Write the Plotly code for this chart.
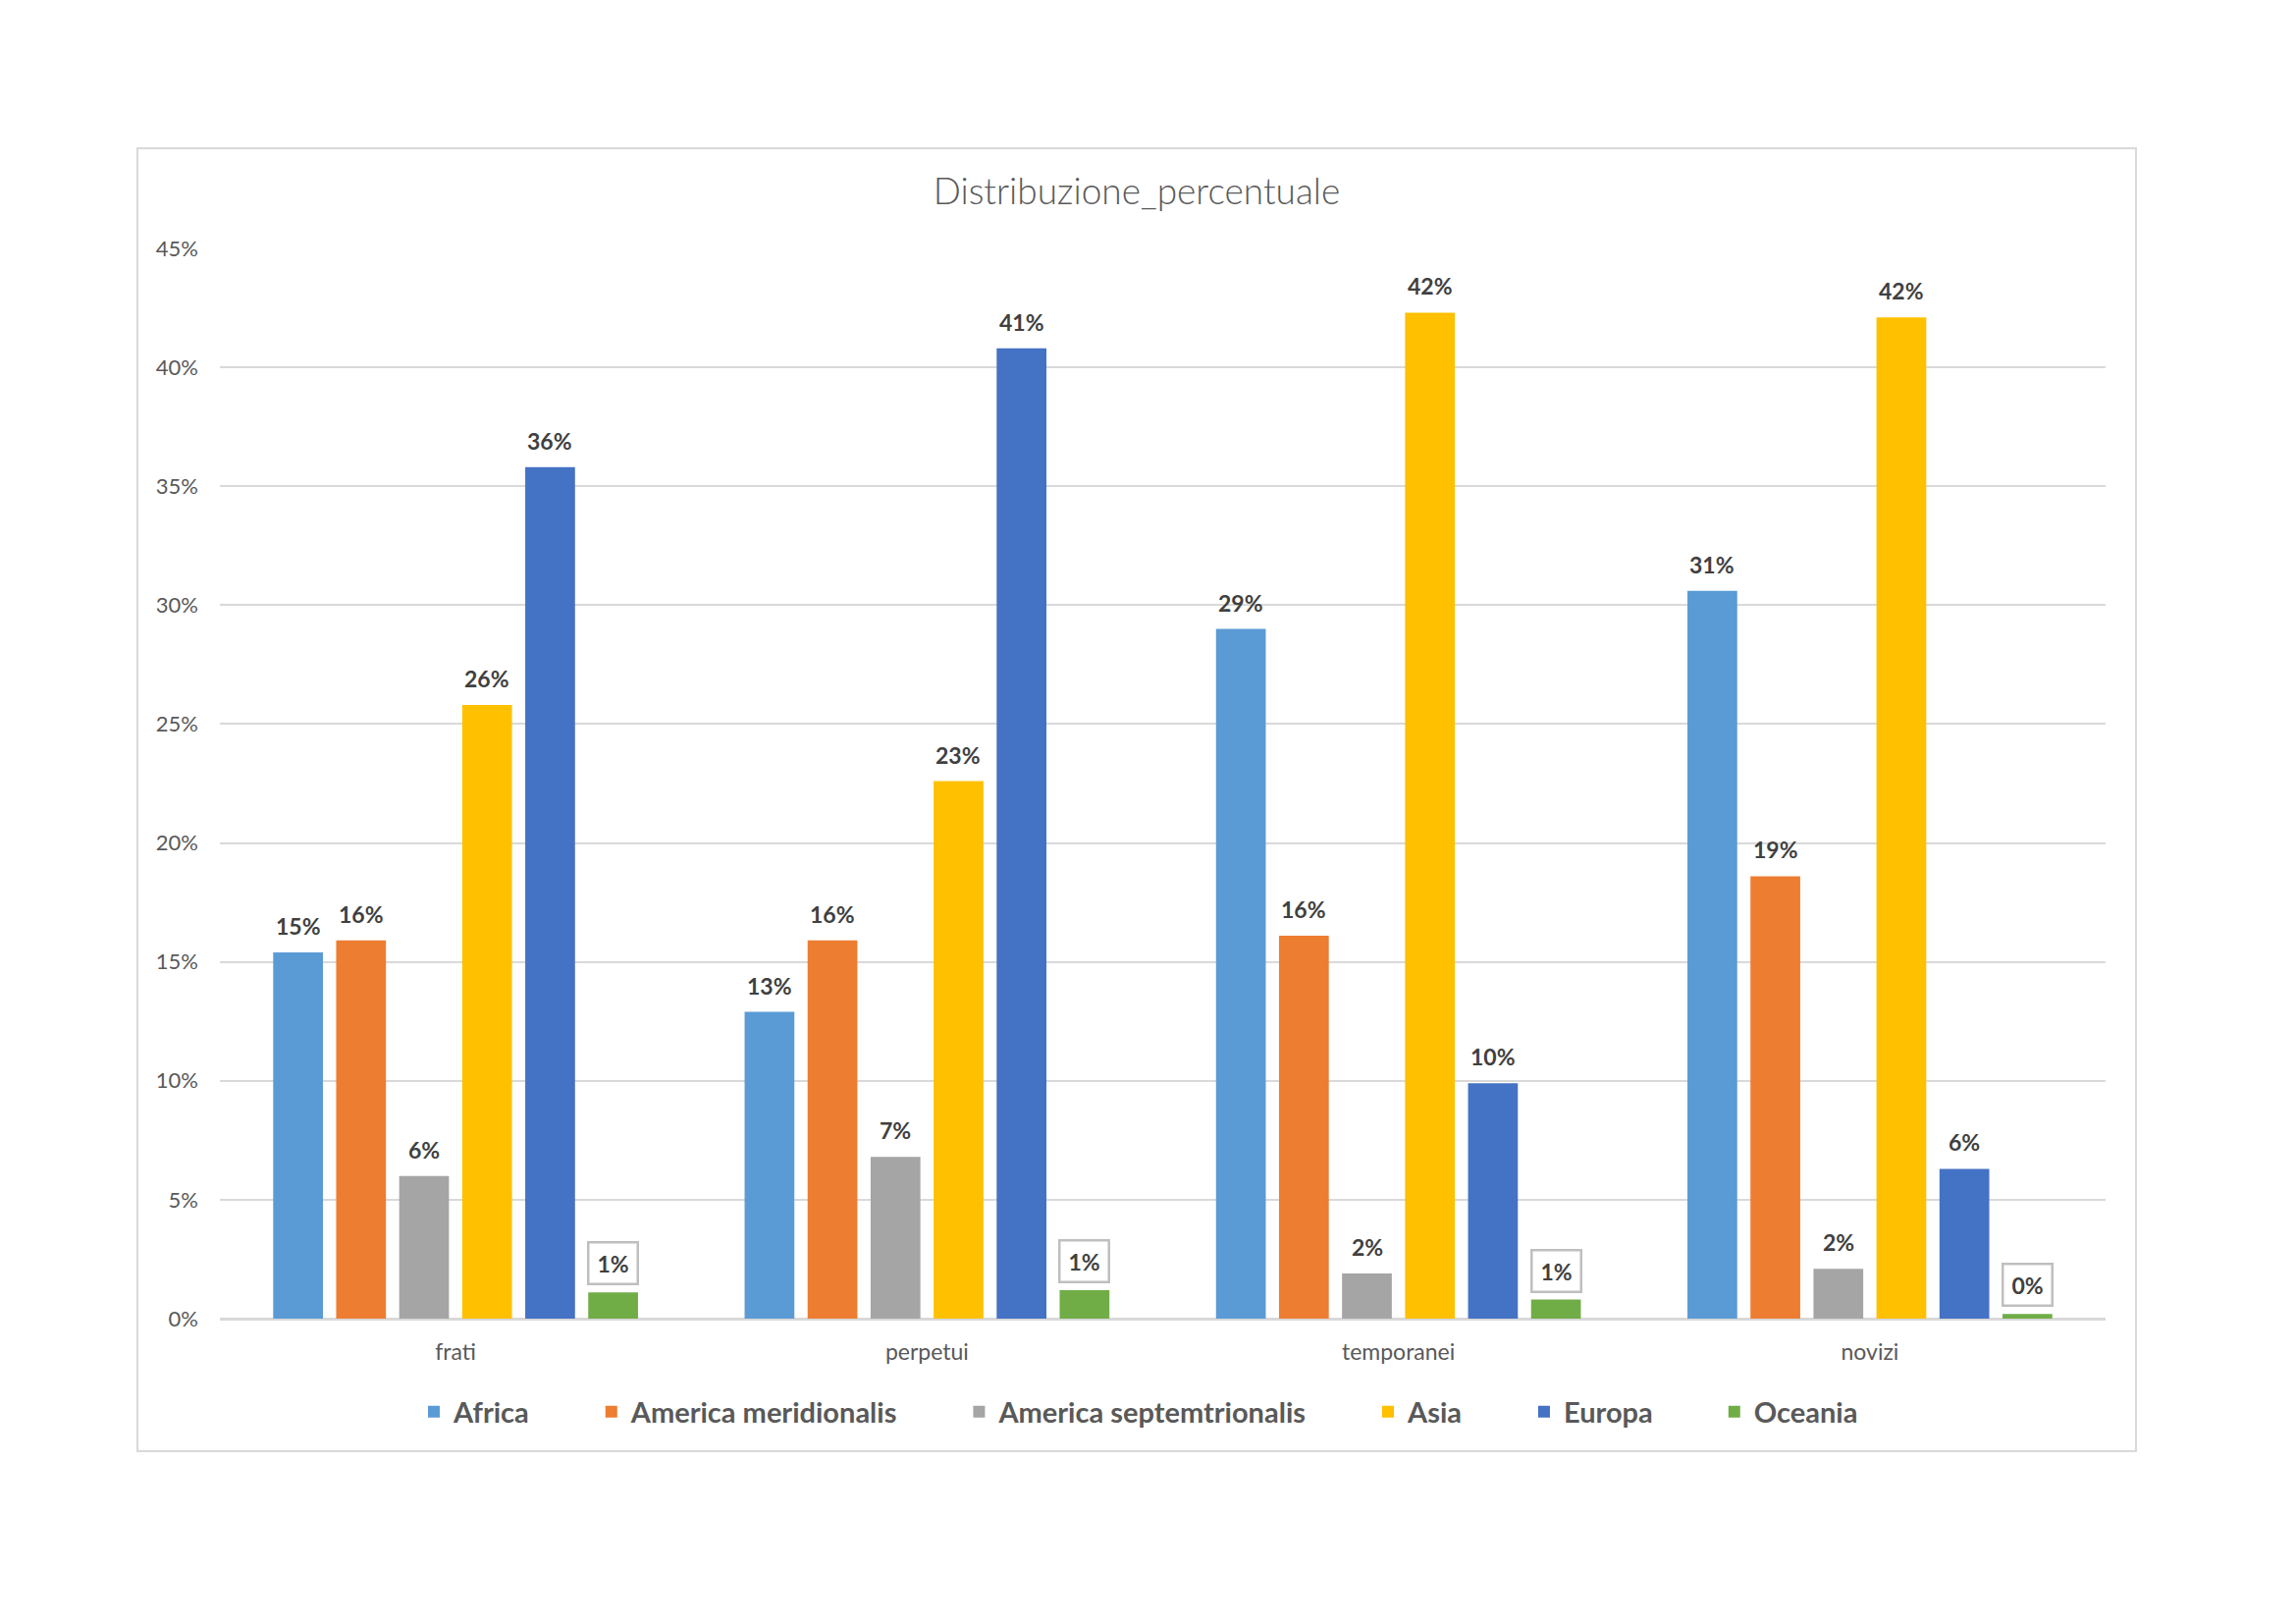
import plotly.graph_objects as go

categories = ["frati", "perpetui", "temporanei", "novizi"]
series_names = ["Africa", "America meridionalis", "America septemtrionalis", "Asia", "Europa", "Oceania"]
africa = [0.154, 0.129, 0.290, 0.306]
america_meridionalis = [0.159, 0.159, 0.161, 0.186]
america_septemtrionalis = [0.060, 0.068, 0.019, 0.021]
asia = [0.258, 0.226, 0.423, 0.421]
europa = [0.358, 0.408, 0.099, 0.063]
oceania = [0.011, 0.012, 0.008, 0.002]
y_ticks = [0, 0.05, 0.10, 0.15, 0.20, 0.25, 0.30, 0.35, 0.40, 0.45]

series_values = [africa, america_meridionalis, america_septemtrionalis, asia, europa, oceania]
colors = ["#5B9BD5", "#ED7D31", "#A5A5A5", "#FFC000", "#4472C4", "#70AD47"]

W, H = 2339, 1654
L, R, T, B = 216, 202, 245, 319
pw, ph = W - L - R, H - T - B

bargap = 0.198
bargroupgap = 0.21
n = len(series_names)
slot = (1 - bargap) / n
legend_pad = "\u2003\u2003\u2002"

fig = go.Figure()
for k, (name, vals) in enumerate(zip(series_names, series_values)):
    fig.add_trace(go.Bar(name=name + (legend_pad if k < n - 1 else ""), x=categories, y=vals,
                         marker_color=colors[k], marker_line_width=0,
                         hovertemplate=name + ": %{y:.1%}<extra></extra>"))

lbl_font = dict(family="Lato", size=23, color="#404040", weight="bold")
annotations = []
for k, vals in enumerate(series_values):
    off = -(1 - bargap) / 2 + (k + 0.5) * slot
    for i, v in enumerate(vals):
        txt = f"{round(v * 100)}%"
        if k == n - 1:
            annotations.append(dict(x=i + off, y=v, xref="x", yref="y", text=txt,
                                    showarrow=False, yanchor="bottom", yshift=7,
                                    bordercolor="#BFBFBF", borderwidth=2.5, borderpad=0,
                                    width=48, height=40, bgcolor="white", font=lbl_font))
        else:
            annotations.append(dict(x=i + off, y=v, xref="x", yref="y", text=txt,
                                    showarrow=False, yanchor="bottom", yshift=11, font=lbl_font))

fig.update_layout(
    width=W, height=H,
    margin=dict(l=L, r=R, t=T, b=B, autoexpand=False),
    paper_bgcolor="white", plot_bgcolor="white",
    barmode="group", bargap=bargap, bargroupgap=bargroupgap,
    title=dict(text="Distribuzione_percentuale", x=1150 / W, xref="container", xanchor="center",
               y=1 - 187.5 / H, yref="container", yanchor="middle",
               font=dict(family="Lato", size=37, color="#595959", weight=300)),
    font=dict(family="Lato", color="#595959"),
    legend=dict(orientation="h", x=(1152 - L) / pw, xref="paper", xanchor="center",
                y=(1335 - 1430) / ph, yanchor="middle",
                font=dict(family="Lato", size=29, color="#595959", weight="bold"),
                itemwidth=30, traceorder="normal"),
    annotations=annotations,
    shapes=[dict(type="rect", xref="paper", yref="paper",
                 x0=(132 - L) / pw, x1=(2168 - L) / pw,
                 y0=(1335 - 1470) / ph, y1=(1335 - 143) / ph,
                 line=dict(color="#D9D9D9", width=2), fillcolor="rgba(0,0,0,0)", layer="below")],
)
fig.update_xaxes(showgrid=False, showline=True, linecolor="#D9D9D9", linewidth=2,
                 ticks="", tickfont=dict(family="Lato", size=23, color="#595959"),
                 ticklabelstandoff=12)
fig.update_yaxes(range=[0, 0.45], tickvals=y_ticks, tickformat=".0%",
                 showgrid=True, gridcolor="#D9D9D9", gridwidth=2,
                 zeroline=True, zerolinecolor="#D9D9D9", zerolinewidth=2,
                 showline=False, ticks="",
                 tickfont=dict(family="Lato", size=22, color="#595959"),
                 ticklabelstandoff=21)

fig.write_html("out.html")
